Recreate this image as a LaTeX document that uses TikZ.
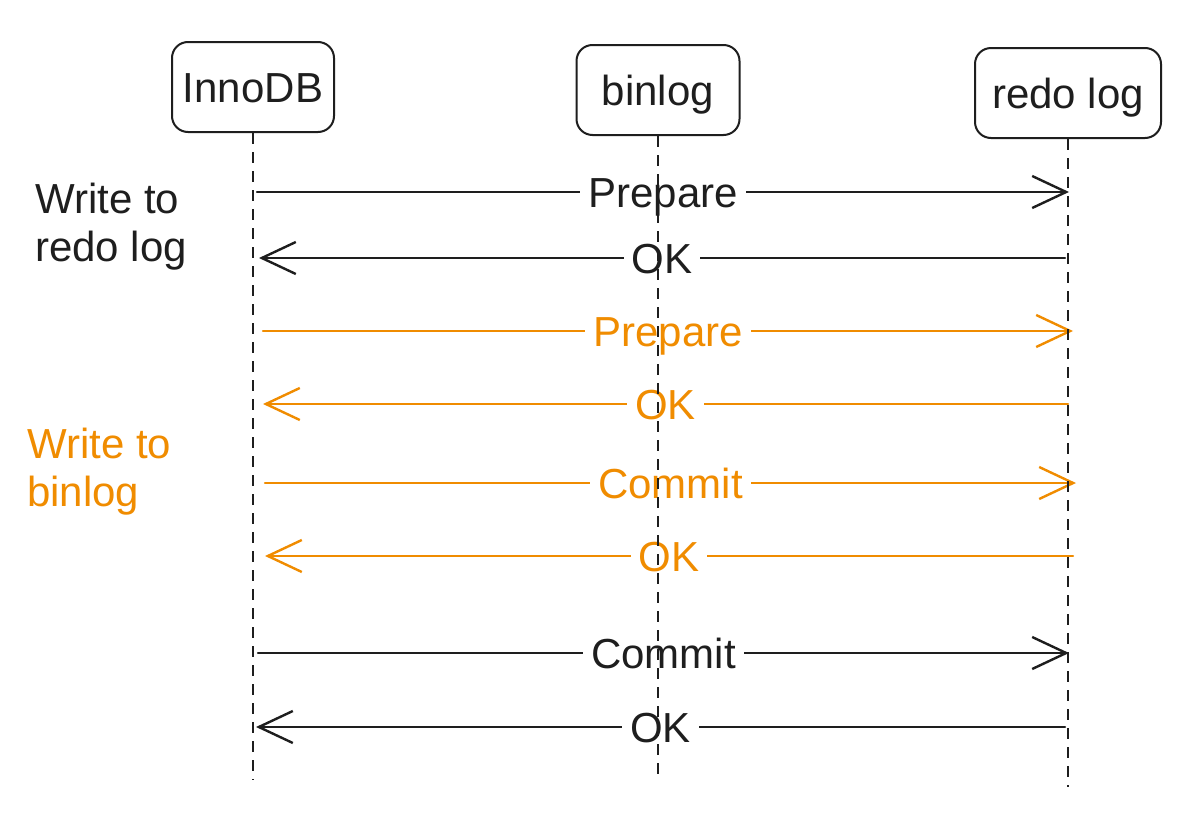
\documentclass[tikz,border=0pt]{standalone}
\usepackage{fontspec}
\setmainfont{Liberation Sans}
\usetikzlibrary{arrows.meta}
\definecolor{ink}{HTML}{1E1E1E}
\definecolor{org}{HTML}{F08C00}
\begin{document}
\begin{tikzpicture}[x=1pt,y=-1pt,
  actor/.style={draw=ink, line width=2pt, rounded corners=16pt, minimum height=90pt,
    inner sep=0pt, text height=30pt, text depth=0pt, font=\fontsize{42}{48}\selectfont, text=ink},
  life/.style={draw=ink, line width=2pt, dash pattern=on 11pt off 8pt},
  msg/.style={line width=2.4pt, line cap=round, -{Straight Barb[length=34pt,width=32pt]}},
  lbl/.style={fill=white, inner xsep=8pt, inner ysep=2pt, text height=30pt, text depth=0pt,
    font=\fontsize{42}{48}\selectfont},
  note/.style={anchor=north west, inner sep=0pt, align=left, font=\fontsize{42}{48}\selectfont}]
\useasboundingbox[fill=white] (0,0) rectangle (1196,838);

% actors
\node[actor, minimum width=162pt] (inno) at (253,87) {InnoDB};
\node[actor, minimum width=163pt] (bin) at (658,90) {binlog};
\node[actor, minimum width=186pt] (redo) at (1068,93) {redo log};

% lifeline ends
\coordinate (innoE) at (253,780);
\coordinate (binE) at (658,780);
\coordinate (redoE) at (1068,787);

% side notes
\node[note, text=ink] (n1) at (35,183) {Write to\\redo log};
\node[note, text=org] (n2) at (27,428) {Write to\\binlog};

% message end points
\foreach \i/\y/\a/\b in {1/192/257/1069,2/258/259/1065,3/331/263/1073,4/404/263/1068,
                         5/483/265/1076,6/556/265/1073,7/653/258/1069,8/727/256/1065}{
  \coordinate (L\i) at (\a,\y);
  \coordinate (R\i) at (\b,\y);
}

% messages
\draw[msg, ink] (L1) -- node[lbl, text=ink] (m1) {Prepare} (R1);
\draw[msg, ink] (R2) -- node[lbl, text=ink] (m2) {OK} (L2);
\draw[msg, org] (L3) -- node[lbl, text=org] (m3) {Prepare} (R3);
\draw[msg, org] (R4) -- node[lbl, text=org] (m4) {OK} (L4);
\draw[msg, org] (L5) -- node[lbl, text=org] (m5) {Commit} (R5);
\draw[msg, org] (R6) -- node[lbl, text=org] (m6) {OK} (L6);
\draw[msg, ink] (L7) -- node[lbl, text=ink] (m7) {Commit} (R7);
\draw[msg, ink] (R8) -- node[lbl, text=ink] (m8) {OK} (L8);

% lifelines drawn on top
\draw[life] (inno.south) -- (innoE);
\draw[life] (bin.south) -- (binE);
\draw[life] (redo.south) -- (redoE);
\end{tikzpicture}
\end{document}
